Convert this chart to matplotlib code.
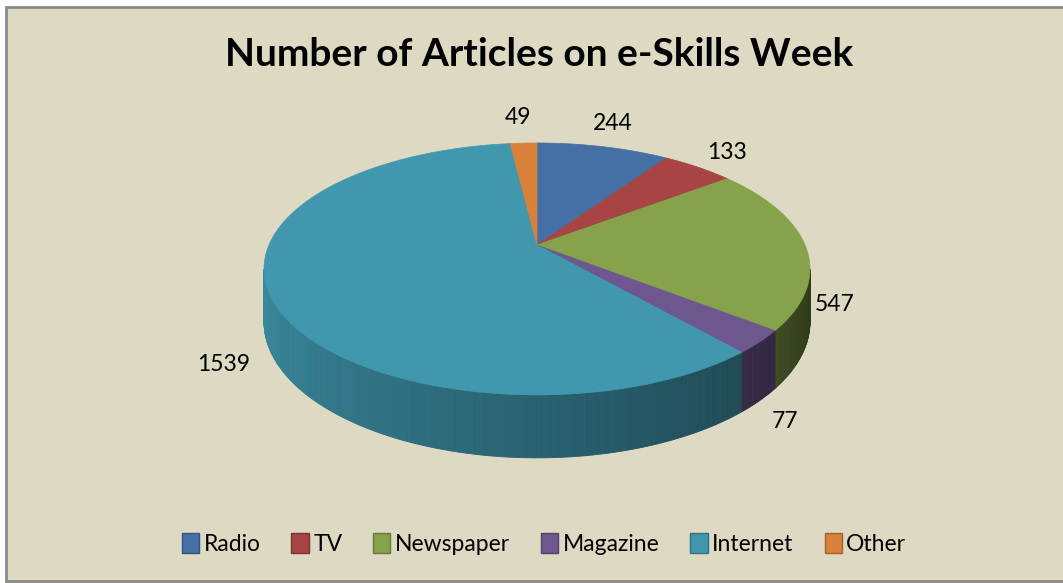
import numpy as np
import matplotlib
matplotlib.use("Agg")
import matplotlib.pyplot as plt
from matplotlib.patches import Rectangle, Patch
from matplotlib.colors import to_rgb

# ---------------- data ----------------
title = "Number of Articles on e-Skills Week"
categories = ["Radio", "TV", "Newspaper", "Magazine", "Internet", "Other"]
values = [244, 133, 547, 77, 1539, 49]
colors = ["#4470A5", "#A64543", "#86A34B", "#6E578F", "#4097AE", "#D9803A"]

# ---------------- layout ----------------
W, H = 1063, 583
fig = plt.figure(figsize=(W / 100, H / 100), dpi=100)
fig.patch.set_facecolor("white")
ax = fig.add_axes([0, 0, 1, 1])
ax.set_xlim(0, W)
ax.set_ylim(H, 0)
ax.axis("off")

ax.add_patch(Rectangle((6, 7), 1200, 574, facecolor="#DDD9C3",
                       edgecolor="none", zorder=0))
ax.plot([1200, 6, 6, 1200], [7, 7, 581, 581], color="#8A8A8A", lw=2,
        zorder=1, solid_joinstyle="miter")

FONT = ["Lato", "DejaVu Sans"]

# projection of the 3D pie (unit circle -> screen)
CX, CY = 537, 245
RX, A, B = 268, 121.4, 0.19
THICK = 51


def proj(theta_deg, r=1.0, down=0.0):
    t = np.radians(theta_deg)
    x = r * np.cos(t)
    y = r * np.sin(t)
    d = 1 + B * y
    return CX + RX * x / d, CY - A * y / d + down / d


total = float(sum(values))
starts, ends = [], []
cur = 90.0
for v in values:
    sweep = v / total * 360.0
    starts.append(cur)
    ends.append(cur - sweep)
    cur -= sweep

# visible side range (silhouette of perspective ellipse)
s_left = 180 + np.degrees(np.arcsin(B))
s_right = 360 - np.degrees(np.arcsin(B))


def shade(theta):
    t = (theta - s_left) / (s_right - s_left)
    t = min(max(t, 0), 1)
    return 0.92 - 0.57 * t ** 1.05


# sides
for v, c, s, e in zip(values, colors, starts, ends):
    lo, hi = e, s
    for off in (0, 360, -360):
        a0 = max(lo + off, s_left)
        a1 = min(hi + off, s_right)
        if a1 <= a0:
            continue
        n = max(int((a1 - a0) / 0.5), 1)
        edges = np.linspace(a0, a1, n + 1)
        base = np.array(to_rgb(c))
        for t0, t1 in zip(edges[:-1], edges[1:]):
            ts = np.linspace(t0, t1, 3)
            top = [proj(t) for t in ts]
            bot = [proj(t, down=THICK) for t in ts[::-1]]
            pts = np.array(top + bot)
            col = np.clip(base * shade((t0 + t1) / 2), 0, 1)
            ax.fill(pts[:, 0], pts[:, 1], color=col, lw=0.6,
                    edgecolor=col, zorder=2)

# top faces
for v, c, s, e in zip(values, colors, starts, ends):
    ts = np.linspace(s, e, max(int(abs(s - e) * 2), 3))
    pts = [proj(0, r=0)] + [proj(t) for t in ts]
    pts = np.array(pts)
    ax.fill(pts[:, 0], pts[:, 1], color=c, lw=0.5, edgecolor=c, zorder=3)

# data labels
for v, s, e in zip(values, starts, ends):
    mid = (s + e) / 2
    sy = np.sin(np.radians(mid))
    cx_ = np.cos(np.radians(mid))
    x, y = proj(mid, r=1.14)
    if sy > 0:
        y -= 14 * sy ** 3
        x += 18 * cx_ - 3
    else:
        y += 58 + 8 * (-sy) * (cx_ > 0)
        if cx_ > 0:
            x -= 8 * cx_ + 12 * cx_ * (-sy)
        else:
            x += 8 * cx_
    ax.text(x, y, str(v), ha="center", va="center", fontsize=16.5,
            family=FONT, color="black", zorder=5)

# title, fitted to reference width
t = ax.text(539, 55, title, ha="center", va="center", fontsize=24,
            fontweight="bold", family=FONT, color="black")
fig.canvas.draw()
bb = t.get_window_extent()
t.set_fontsize(24 * 628 / bb.width)

# legend
handles = [Patch(facecolor=c, edgecolor=np.clip(np.array(to_rgb(c)) * 0.75, 0, 1),
                 lw=1.0) for c in colors]
leg = fig.legend(handles, categories, loc="center", ncol=6,
                 bbox_to_anchor=(544 / W, 1 - 544 / H), frameon=False,
                 prop={"family": FONT, "size": 16.5}, handlelength=0.75,
                 handleheight=1.0, handletextpad=0.2, columnspacing=1.35,
                 borderpad=0.2)

fig.savefig("out.png", dpi=100, facecolor=fig.get_facecolor())
